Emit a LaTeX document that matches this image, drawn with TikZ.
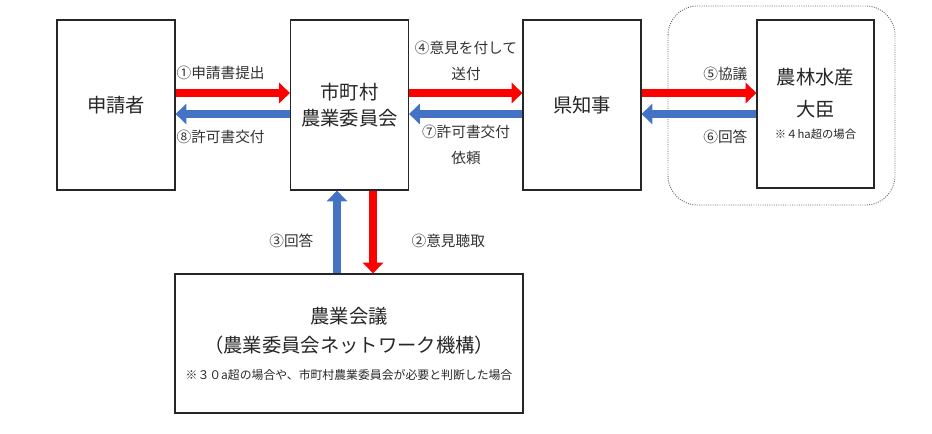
\documentclass[tikz,border=0pt]{standalone}
\usepackage{fontspec}
\setmainfont{Noto Sans CJK JP}
\usepackage{tikz}
\usetikzlibrary{arrows.meta}

\definecolor{goRed}{HTML}{FF0000}
\definecolor{backBlue}{HTML}{4472C4}
\newcommand{\notesize}{\fontsize{8.5}{10}\selectfont}

\begin{document}
\begin{tikzpicture}[x=0.75pt,y=-0.75pt,
    box/.style={draw=black!85,line width=0.9pt,minimum width=88.5pt,minimum height=127.5pt,
        inner sep=0pt,align=center,text=black!85,font=\fontsize{14.5}{20}\selectfont},
    lbl/.style={inner sep=1pt,align=center,text=black!80,font=\fontsize{11}{19}\selectfont},
    goarrow/.style={draw=goRed,line width=6.5pt,-{Triangle[length=8pt,width=15pt]}},
    backarrow/.style={draw=backBlue,line width=6.5pt,-{Triangle[length=8pt,width=15pt]}}]
    \useasboundingbox (0,0) rectangle (932,434);

    % dotted group round the minister
    \draw[densely dotted,black!60,line width=0.7pt,rounded corners=22pt] (668,6) rectangle (895,205);

    % boxes
    \node[box] (appl) at (116,105) {申請者};
    \node[box] (iinkai) at (349.5,105) {市町村\\農業委員会};
    \node[box] (chiji) at (582,105) {県知事};
    \node[box,minimum width=87.75pt,minimum height=126pt] (daijin) at (815.5,104)
        {農林水産\\[4pt]大臣\\[-3pt]{\notesize ※４ha超の場合}};
    \node[box,minimum width=261pt,minimum height=104.25pt] (kaigi) at (349,343.5)
        {農業会議\\[2pt]（農業委員会ネットワーク機構）\\{\fontsize{8.9}{10}\selectfont ※３０a超の場合や、市町村農業委員会が必要と判断した場合}};

    % arrow rows
    \coordinate (ry) at (0,93);
    \coordinate (by) at (0,114);
    \coordinate (ux) at (337,0);
    \coordinate (dx) at (373,0);

    \draw[goarrow] (appl.east |- ry) -- (iinkai.west |- ry);
    \draw[backarrow] (iinkai.west |- by) -- (appl.east |- by);
    \draw[goarrow] (iinkai.east |- ry) -- (chiji.west |- ry);
    \draw[backarrow] (chiji.west |- by) -- (iinkai.east |- by);
    \draw[goarrow] (chiji.east |- ry) -- (daijin.west |- ry);
    \draw[backarrow] (daijin.west |- by) -- (chiji.east |- by);
    \draw[goarrow] (iinkai.south -| dx) -- (kaigi.north -| dx);
    \draw[backarrow] (kaigi.north -| ux) -- (iinkai.south -| ux);

    % labels
    \node[lbl,anchor=west] (l1) at (175,73) {①申請書提出};
    \node[lbl,anchor=west] (l8) at (175,137) {⑧許可書交付};
    \node[lbl] (l4) at (466,61) {④意見を付して\\送付};
    \node[lbl] (l7) at (466,145) {⑦許可書交付\\依頼};
    \node[lbl,anchor=east] (l5) at (749,74) {⑤協議};
    \node[lbl,anchor=east] (l6) at (749,137) {⑥回答};
    \node[lbl,anchor=east] (l3) at (315,241) {③回答};
    \node[lbl,anchor=west] (l2) at (410,241) {②意見聴取};
\end{tikzpicture}
\end{document}
